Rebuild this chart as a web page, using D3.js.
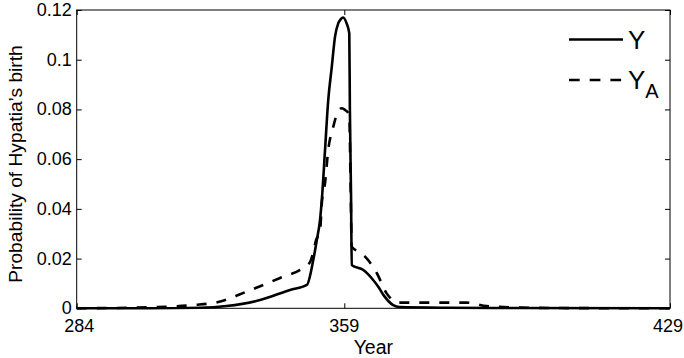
<!DOCTYPE html>
<html><head><meta charset="utf-8">
<script src="https://cdn.jsdelivr.net/npm/d3@7"></script>
<style>
html,body{margin:0;padding:0;background:#fff;}
svg{display:block;font-family:"Liberation Sans",Arial,Helvetica,sans-serif;}
</style></head>
<body>
<script>
// ---- data ----
const yearsY = [284,304.5,318.6,326.0,335.4,343.8,348.5,350.3,351.3,352.2,352.7,353.6,354.5,355.5,356.4,357.3,358.0,358.7,359.5,360.07,360.2,360.45,360.6,363.1,365.2,366.3,367.4,369.5,370.9,381.7,392.4,429];
const valuesY = [0,0,0.0002,0.0009,0.0033,0.0074,0.0094,0.0194,0.0275,0.0356,0.0436,0.0637,0.0838,0.0972,0.1093,0.1146,0.1163,0.1170,0.1146,0.1106,0.0800,0.0450,0.0174,0.0154,0.0114,0.0087,0.0054,0.0013,0.0005,0.0002,0.0001,0];
const yearsYA = [284,304.5,316.6,324.2,331.6,341.0,347.4,349.4,350.3,351.1,352.2,352.7,353.6,354.5,355.9,357.2,358.3,359.15,360.07,360.33,360.6,362.0,363.8,366.0,368.1,370.6,385.3,389.6,396.8,405.4,429];
const valuesYA = [0,0.0004,0.0013,0.0027,0.0067,0.0122,0.0162,0.0186,0.0226,0.0275,0.0308,0.0424,0.0504,0.0637,0.0730,0.0790,0.0805,0.0798,0.0778,0.0520,0.0248,0.0228,0.0201,0.0141,0.0060,0.0023,0.0023,0.0009,0.0003,0.0001,0];
const xTicks = [284,359,429];
const yTicks = [0,0.02,0.04,0.06,0.08,0.1,0.12];
const yTickLabels = ["0","0.02","0.04","0.06","0.08","0.1","0.12"];
const seriesNames = ["Y","A"];

// ---- layout ----
const W=684,H=358;
const L=76.7,R=670,T=10,B=308.3;
const svg=d3.select("body").append("svg").attr("width",W).attr("height",H);

const x=d3.scaleLinear().domain([284,359,429]).range([L,344.3,R]);
const y=d3.scaleLinear().domain([0,0.12]).range([B,T]);

const line=d3.line().x(d=>x(d[0])).y(d=>y(d[1])).curve(d3.curveMonotoneX);
const dY=yearsY.map((v,i)=>[v,valuesY[i]]);
const dYA=yearsYA.map((v,i)=>[v,valuesYA[i]]);

svg.append("path").datum(dYA).attr("d",line).attr("fill","none")
  .attr("stroke","#000").attr("stroke-width",2.6).attr("stroke-dasharray","10,10");
svg.append("path").datum(dY).attr("d",line).attr("fill","none")
  .attr("stroke","#000").attr("stroke-width",2.6);

// axes (ticks inside)
const fs=18;
const gB=svg.append("g").attr("transform",`translate(0,${B})`)
  .call(d3.axisTop(x).tickValues(xTicks).tickSize(5).tickFormat(""));
const gT=svg.append("g").attr("transform",`translate(0,${T})`)
  .call(d3.axisBottom(x).tickValues(xTicks).tickSize(5).tickFormat(""));
const gL=svg.append("g").attr("transform",`translate(${L},0)`)
  .call(d3.axisRight(y).tickValues(yTicks).tickSize(5).tickFormat(""));
const gR=svg.append("g").attr("transform",`translate(${R},0)`)
  .call(d3.axisLeft(y).tickValues(yTicks).tickSize(5).tickFormat(""));
[gB,gT,gL,gR].forEach(g=>{g.select(".domain").remove();g.selectAll("line").attr("stroke","#000");});

svg.append("rect").attr("x",L).attr("y",T).attr("width",R-L).attr("height",B-T)
  .attr("fill","none").attr("stroke","#000").attr("stroke-width",1);

// tick labels
const xAdj = [2.5,0,-2];
svg.append("g").selectAll("text").data(xTicks).join("text")
  .attr("x",(d,i)=>x(d)+xAdj[i]).attr("y",B+24).attr("text-anchor","middle")
  .attr("font-size",fs).text(d=>d);
svg.append("g").selectAll("text").data(yTicks).join("text")
  .attr("x",L-5).attr("y",d=>y(d)+6).attr("text-anchor","end")
  .attr("font-size",fs).text((d,i)=>yTickLabels[i]);

// axis labels
svg.append("text").attr("x",(L+R)/2).attr("y",354).attr("text-anchor","middle")
  .attr("font-size",19.5).text("Year");
svg.append("text").attr("transform",`translate(22,164) rotate(-90)`)
  .attr("text-anchor","middle").attr("font-size",19.2).text("Probability of Hypatia\u2019s birth");

// legend
const lg=svg.append("g");
lg.append("line").attr("x1",569).attr("x2",623).attr("y1",39.5).attr("y2",39.5)
  .attr("stroke","#000").attr("stroke-width",2.6);
lg.append("line").attr("x1",569).attr("x2",623).attr("y1",80).attr("y2",80)
  .attr("stroke","#000").attr("stroke-width",2.6).attr("stroke-dasharray","10.7,10");
lg.append("text").attr("x",628).attr("y",49).attr("font-size",26).text(seriesNames[0]);
const t2=lg.append("text").attr("x",628).attr("y",89).attr("font-size",26);
t2.append("tspan").text(seriesNames[0]);
t2.append("tspan").attr("dy",9).attr("font-size",20).text(seriesNames[1]);
</script>
</body></html>
